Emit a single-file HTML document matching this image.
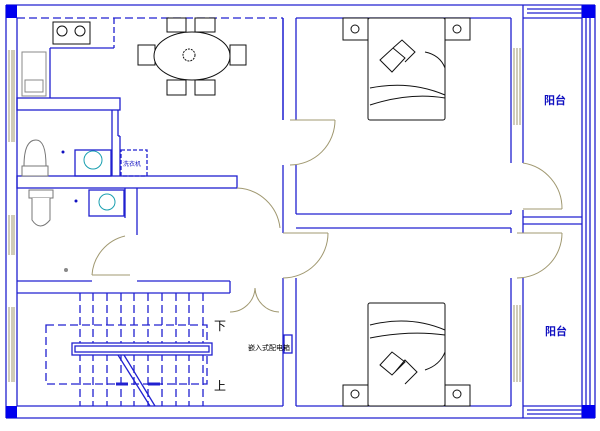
<!DOCTYPE html>
<html><head><meta charset="utf-8"><style>
html,body{margin:0;padding:0;background:#fff;width:600px;height:431px;overflow:hidden}
svg{display:block}
text{font-family:"Liberation Sans","Noto Sans CJK SC",sans-serif}
</style></head><body>
<svg width="600" height="431" viewBox="0 0 600 431" xmlns="http://www.w3.org/2000/svg">
<g fill="none" stroke="#2020d0" stroke-width="1.3">
<!-- outer walls -->
<line x1="6" y1="5" x2="595" y2="5"/>
<line x1="6" y1="418" x2="595" y2="418"/>
<line x1="6" y1="5" x2="6" y2="418"/>
<line x1="17" y1="18" x2="17" y2="406"/>
<line x1="17" y1="18" x2="283" y2="18" stroke-dasharray="8,4"/>
<line x1="17" y1="406" x2="283" y2="406"/>
<!-- bedrooms -->
<line x1="283" y1="18" x2="283" y2="120"/>
<line x1="296" y1="18" x2="296" y2="120"/>
<line x1="283" y1="165" x2="283" y2="233"/>
<line x1="296" y1="165" x2="296" y2="214"/>
<line x1="283" y1="278" x2="283" y2="406"/>
<line x1="296" y1="278" x2="296" y2="406"/>
<line x1="296" y1="18" x2="511" y2="18"/>
<line x1="296" y1="214" x2="511" y2="214"/>
<line x1="296" y1="228" x2="511" y2="228"/>
<line x1="296" y1="406" x2="511" y2="406"/>
<line x1="511" y1="18" x2="511" y2="163"/>
<line x1="523" y1="5" x2="523" y2="163"/>
<line x1="511" y1="210" x2="511" y2="214"/>
<line x1="523" y1="210" x2="523" y2="233"/>
<line x1="511" y1="228" x2="511" y2="233"/>
<line x1="511" y1="278" x2="511" y2="406"/>
<line x1="523" y1="278" x2="523" y2="418"/>
<line x1="523" y1="217" x2="582" y2="217"/>
<line x1="523" y1="224" x2="582" y2="224"/>
<!-- balcony rails -->
<line x1="582" y1="5" x2="582" y2="418"/>
<line x1="586" y1="5" x2="586" y2="418"/>
<line x1="590" y1="5" x2="590" y2="418"/>
<line x1="595" y1="5" x2="595" y2="418"/>
<line x1="527" y1="9" x2="582" y2="9"/><line x1="527" y1="13" x2="582" y2="13"/><line x1="523" y1="18" x2="582" y2="18"/>
<line x1="527" y1="410" x2="582" y2="410"/><line x1="527" y1="414" x2="582" y2="414"/><line x1="523" y1="406" x2="582" y2="406"/>
<!-- kitchen -->
<line x1="114" y1="18" x2="114" y2="48" stroke-dasharray="6,3"/>
<line x1="50" y1="48" x2="114" y2="48"/>
<line x1="50" y1="48" x2="50" y2="98"/>
<rect x="17" y="98" width="103" height="12"/>
<line x1="112" y1="110" x2="112" y2="176"/>
<line x1="118" y1="110" x2="118" y2="136"/>
<line x1="118" y1="136" x2="120" y2="136"/><line x1="120" y1="136" x2="120" y2="176"/>
<rect x="121" y="150" width="26" height="26" stroke-dasharray="4,2"/>
<rect x="17" y="176" width="220" height="12"/>
<line x1="137" y1="188" x2="137" y2="235"/>
<line x1="125" y1="188" x2="125" y2="218"/>
<rect x="89" y="190" width="35" height="26"/>
<rect x="75" y="150" width="36" height="26"/>
<line x1="17" y1="281" x2="92" y2="281"/>
<line x1="137" y1="281" x2="230" y2="281"/>
<line x1="17" y1="293" x2="230" y2="293"/>
<line x1="230" y1="281" x2="230" y2="293"/>
<line x1="283" y1="18" x2="283" y2="120"/>
<!-- stairs -->
<g stroke-dasharray="8,4">
<line x1="80" y1="293" x2="80" y2="406"/><line x1="93" y1="293" x2="93" y2="406"/>
<line x1="107" y1="293" x2="107" y2="406"/><line x1="121" y1="293" x2="121" y2="406"/>
<line x1="134" y1="293" x2="134" y2="406"/><line x1="148" y1="293" x2="148" y2="406"/>
<line x1="162" y1="293" x2="162" y2="406"/><line x1="176" y1="293" x2="176" y2="406"/>
<line x1="189" y1="293" x2="189" y2="406"/><line x1="203" y1="293" x2="203" y2="406"/>
<rect x="46" y="325" width="161" height="59"/>
</g>
<rect x="72" y="343" width="140" height="12" fill="#fff"/>
<rect x="75" y="346" width="134" height="6"/>
<line x1="118" y1="355" x2="150" y2="406"/>
<line x1="124" y1="355" x2="155" y2="406"/>
<line x1="116" y1="384" x2="128" y2="384" stroke-width="3"/>
<line x1="148" y1="384" x2="160" y2="384" stroke-width="3"/>
<!-- entry / switch -->
<rect x="284" y="335" width="8" height="18"/>
</g>
<!-- blue squares -->
<g fill="#0000ee">
<rect x="6" y="5" width="11" height="13"/>
<rect x="6" y="406" width="11" height="12"/>
<rect x="582" y="5" width="13" height="13"/>
<rect x="582" y="405" width="13" height="13"/>
</g>
<!-- windows -->
<g stroke="#a09870" stroke-width="1" fill="none">
<line x1="9" y1="50" x2="9" y2="142"/><line x1="12" y1="50" x2="12" y2="142"/><line x1="14" y1="50" x2="14" y2="142"/>
<line x1="9" y1="215" x2="9" y2="255"/><line x1="12" y1="215" x2="12" y2="255"/><line x1="14" y1="215" x2="14" y2="255"/>
<line x1="9" y1="307" x2="9" y2="382"/><line x1="12" y1="307" x2="12" y2="382"/><line x1="14" y1="307" x2="14" y2="382"/>
<line x1="514" y1="48" x2="514" y2="125"/><line x1="517" y1="48" x2="517" y2="125"/><line x1="520" y1="48" x2="520" y2="125"/>
<line x1="514" y1="305" x2="514" y2="382"/><line x1="517" y1="305" x2="517" y2="382"/><line x1="520" y1="305" x2="520" y2="382"/>
<!-- doors -->
<line x1="290" y1="120" x2="335" y2="120"/><path d="M335 120 A45 45 0 0 1 290 165"/>
<line x1="283" y1="233" x2="328" y2="233"/><path d="M328 233 A45 45 0 0 1 283 278"/>
<line x1="523" y1="209" x2="562" y2="209"/><path d="M523 163 A46 46 0 0 1 562 209"/>
<line x1="517" y1="233" x2="562" y2="233"/><path d="M562 233 A45 45 0 0 1 517 278"/>
<line x1="92" y1="275" x2="130" y2="275"/><path d="M92 275 A43 43 0 0 1 125 236"/>
<path d="M237 188 A45 45 0 0 1 280 228"/>
<path d="M230 312 A25 25 0 0 0 255 288"/><path d="M279 312 A25 25 0 0 1 255 288"/>
</g>
<!-- furniture (black) -->
<g stroke="#111" stroke-width="1" fill="#fff">
<rect x="53" y="22" width="37" height="22"/>
<circle cx="62" cy="31" r="5"/><circle cx="80" cy="31" r="5"/>
<rect x="22" y="52" width="24" height="44" stroke="#888"/>
<rect x="25" y="80" width="18" height="12" stroke="#888"/>
<path d="M24 166 Q24 140 36 140 Q46 140 46 166 Z" stroke="#777"/>
<rect x="22" y="166" width="26" height="10" stroke="#777"/>
<rect x="29" y="190" width="24" height="8" stroke="#777"/>
<path d="M32 198 L32 220 Q40 232 50 220 L50 198" stroke="#777"/>
<circle cx="93" cy="160" r="9" stroke="#1a9fb0"/>
<circle cx="107" cy="202" r="8" stroke="#1a9fb0"/>
<rect x="167" y="18" width="19" height="14"/><rect x="195" y="18" width="20" height="14"/>
<rect x="167" y="80" width="19" height="15"/><rect x="195" y="80" width="20" height="15"/>
<rect x="138" y="45" width="17" height="20"/><rect x="230" y="45" width="16" height="20"/>
<ellipse cx="192" cy="56" rx="38" ry="24"/>
<circle cx="189" cy="55" r="6" stroke-dasharray="2,1"/>
<!-- bed 1 -->
<rect x="368" y="18" width="77" height="102" rx="2"/>
<rect x="343" y="18" width="25" height="22"/><rect x="445" y="18" width="25" height="22"/>
<circle cx="355" cy="29" r="4"/><circle cx="457" cy="29" r="4"/>
<path d="M370 88 Q410 80 445 95 M370 105 Q410 92 445 98"/>
<path d="M380 60 L393 48 L405 58 L392 72 Z M393 48 L402 40 L415 52 L405 62"/>
<path d="M425 52 Q440 55 445 68"/>
<!-- bed 2 -->
<rect x="368" y="303" width="77" height="103" rx="2"/>
<rect x="343" y="385" width="25" height="21"/><rect x="445" y="385" width="25" height="21"/>
<circle cx="355" cy="394" r="4"/><circle cx="457" cy="394" r="4"/>
<path d="M370 325 Q410 315 445 330 M370 338 Q410 330 445 335"/>
<path d="M380 365 L392 352 L405 362 L392 375 Z M395 372 L405 360 L417 372 L405 384"/>
<path d="M425 370 Q440 365 445 352"/>
</g>
<text x="544" y="104" font-size="11" font-weight="bold" fill="#1010c0">阳台</text>
<text x="545" y="335" font-size="11" font-weight="bold" fill="#1010c0">阳台</text>
<text x="214" y="330" font-size="12" fill="#000">下</text>
<text x="214" y="390" font-size="12" fill="#000">上</text>
<text x="248" y="350" font-size="7" fill="#000">嵌入式配电箱</text>
<text x="123" y="166" font-size="6" fill="#1010c0">洗衣机</text>
<circle cx="63" cy="152" r="1.5" fill="#1010c0"/>
<circle cx="76" cy="201" r="1.5" fill="#1010c0"/>
<circle cx="66" cy="270" r="2" fill="#888"/>
</svg>
</body></html>
